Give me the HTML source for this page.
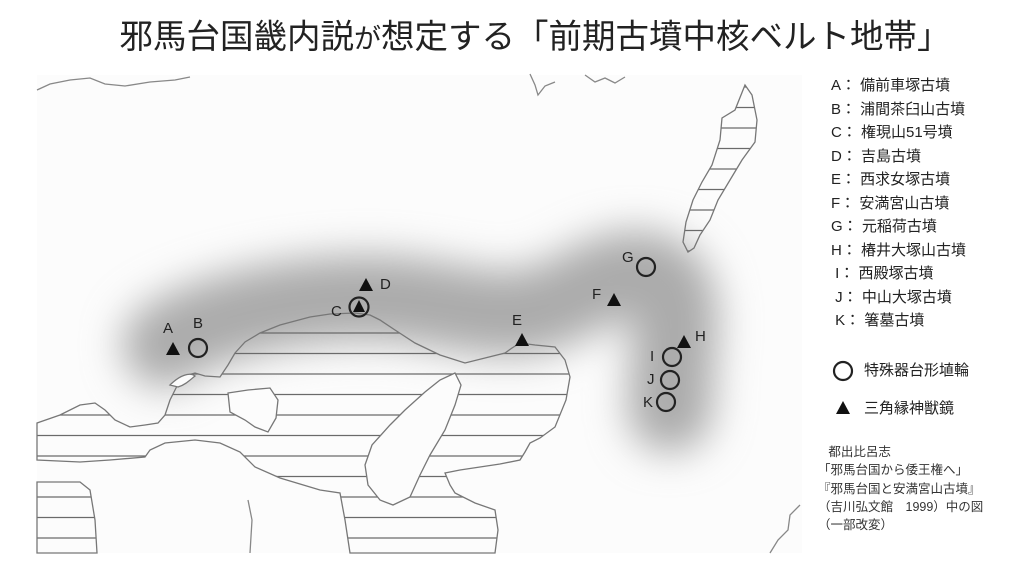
<!DOCTYPE html>
<html><head><meta charset="utf-8">
<style>
html,body{margin:0;padding:0;background:#fff;}
body{width:1024px;height:576px;position:relative;overflow:hidden;font-family:"Liberation Sans","Noto Sans CJK JP",sans-serif;color:#222;}
.title{position:absolute;left:23px;width:1024px;top:17px;text-align:center;font-size:33.5px;line-height:42px;font-family:"Liberation Sans","Noto Sans CJK JP",sans-serif;color:#222;}
.title small{font-size:27px;}
.leg{position:absolute;left:831px;font-size:15px;line-height:20px;white-space:nowrap;color:#222;}
.cite{position:absolute;left:818px;top:443px;font-size:12.5px;line-height:18.3px;color:#333;white-space:nowrap;}
svg{position:absolute;left:0;top:0;}
</style></head><body>
<svg width="1024" height="576" viewBox="0 0 1024 576">
<defs>
<filter id="bl" filterUnits="userSpaceOnUse" x="0" y="0" width="1024" height="576"><feGaussianBlur stdDeviation="20"/></filter>
<pattern id="hat" width="40" height="20.5" patternUnits="userSpaceOnUse" y="332"><line x1="0" y1="1" x2="40" y2="1" stroke="#6a6a6a" stroke-width="1.3"/></pattern>
</defs>
<rect x="37" y="75" width="765" height="478" fill="#fcfcfc"/>
<path d="M165,345 C200,320 280,300 360,298 C430,296 480,320 530,312 C580,300 610,265 650,275 C685,285 675,330 672,370 L670,410" fill="none" stroke="#ababab" stroke-width="85" stroke-linecap="round" filter="url(#bl)"/>
<g stroke="#777" stroke-width="1.3" fill="url(#hat)">
<path d="M37,423 L60,415 L80,405 L95,403 L105,410 L115,420 L130,427 L145,425 L158,423 L165,415 L170,400 L176,388 L180,380 L188,375 L195,373 L205,376 L220,377 L228,365 L235,353 L245,342 L260,333 L280,325 L310,317 L330,314 L355,313 L370,315 L380,320 L395,330 L415,343 L440,355 L465,363 L485,358 L505,353 L512,348 L520,343 L535,345 L555,347 L565,360 L570,377 L566,400 L555,427 L540,438 L530,443 L525,452 L520,460 L500,464 L480,467 L460,470 L445,473 L450,485 L455,493 L475,503 L495,510 L498,530 L495,553 L350,553 L345,520 L340,493 L320,490 L310,487 L280,478 L255,467 L240,452 L220,443 L195,440 L165,443 L150,450 L145,457 L110,460 L80,462 L37,460 Z"/>
<path d="M37,482 L80,482 L90,490 L95,520 L97,553 L37,553 Z" />
<path d="M745,85 L752,95 L757,120 L755,142 L742,160 L730,180 L718,200 L710,220 L700,235 L694,248 L688,252 L683,242 L686,222 L693,200 L702,182 L712,165 L720,140 L722,118 L735,110 Z"/>
</g>
<g stroke="#777" stroke-width="1.3" fill="#fcfcfc">
<path d="M455,373 L461,385 L455,405 L445,430 L430,455 L420,475 L410,497 L393,505 L380,500 L368,485 L365,465 L372,445 L390,425 L405,410 L425,392 L440,380 Z"/>
<path d="M228,393 L248,390 L270,388 L278,400 L276,418 L268,432 L255,427 L245,420 L230,412 Z"/>
<path d="M170,385 C180,375 190,372 195,376 C190,380 185,385 178,387 Z"/>
</g>
<g stroke="#888" stroke-width="1.3" fill="none">
<path d="M37,90 L50,84 L70,80 L90,78 L105,84 L125,86 L150,82 L175,80 L190,77"/>
<path d="M530,74 L535,85 L538,95 L545,86 L555,82"/>
<path d="M585,75 L595,82 L605,78 L615,83 L625,77"/>
<path d="M800,505 L790,515 L788,530 L778,540 L770,553"/>
<path d="M250,553 L252,520 L248,500"/>
</g>
<g fill="#111">
<polygon points="173,342 180,355 166,355"/>
<polygon points="366,278 373,291 359,291"/>
<polygon points="359,300 365,312 353,312"/>
<polygon points="522,333 529,346 515,346"/>
<polygon points="614,293 621,306 607,306"/>
<polygon points="684,335 691,348 677,348"/>
<polygon points="843,401 850,414 836,414"/>
</g>
<g fill="none" stroke="#222" stroke-width="2.2">
<circle cx="198" cy="348" r="9"/>
<circle cx="359" cy="307" r="9.5"/>
<circle cx="646" cy="267" r="9"/>
<circle cx="672" cy="357" r="9"/>
<circle cx="670" cy="380" r="9"/>
<circle cx="666" cy="402" r="9"/>
<circle cx="843" cy="371" r="9"/>
</g>
<g font-family="Liberation Sans, sans-serif" font-size="15" fill="#222">
<text x="163" y="333">A</text>
<text x="193" y="328">B</text>
<text x="331" y="316">C</text>
<text x="380" y="289">D</text>
<text x="512" y="325">E</text>
<text x="592" y="299">F</text>
<text x="622" y="262">G</text>
<text x="695" y="341">H</text>
<text x="650" y="361">I</text>
<text x="647" y="384">J</text>
<text x="643" y="407">K</text>
</g>
</svg>
<div class="title">邪馬台国畿内説<small>が</small>想定する「前期古墳中核ベルト地帯」</div>
<div class="leg" style="top:76px">A： 備前車塚古墳</div>
<div class="leg" style="top:99.5px">B： 浦間茶臼山古墳</div>
<div class="leg" style="top:123px">C： 権現山51号墳</div>
<div class="leg" style="top:146.5px">D： 吉島古墳</div>
<div class="leg" style="top:170px">E： 西求女塚古墳</div>
<div class="leg" style="top:193.5px">F： 安満宮山古墳</div>
<div class="leg" style="top:217px">G： 元稲荷古墳</div>
<div class="leg" style="top:240.5px">H： 椿井大塚山古墳</div>
<div class="leg" style="top:264px">&nbsp;I： 西殿塚古墳</div>
<div class="leg" style="top:287.5px">&nbsp;J： 中山大塚古墳</div>
<div class="leg" style="top:311px">&nbsp;K： 箸墓古墳</div>
<div class="leg" style="top:361px;left:864px">特殊器台形埴輪</div>
<div class="leg" style="top:399px;left:864px">三角縁神獣鏡</div>
<div class="cite">&nbsp;&nbsp;&nbsp;都出比呂志<br>「邪馬台国から倭王権へ」<br>『邪馬台国と安満宮山古墳』<br>（吉川弘文館　1999）中の図<br>（一部改変）</div>
</body></html>
